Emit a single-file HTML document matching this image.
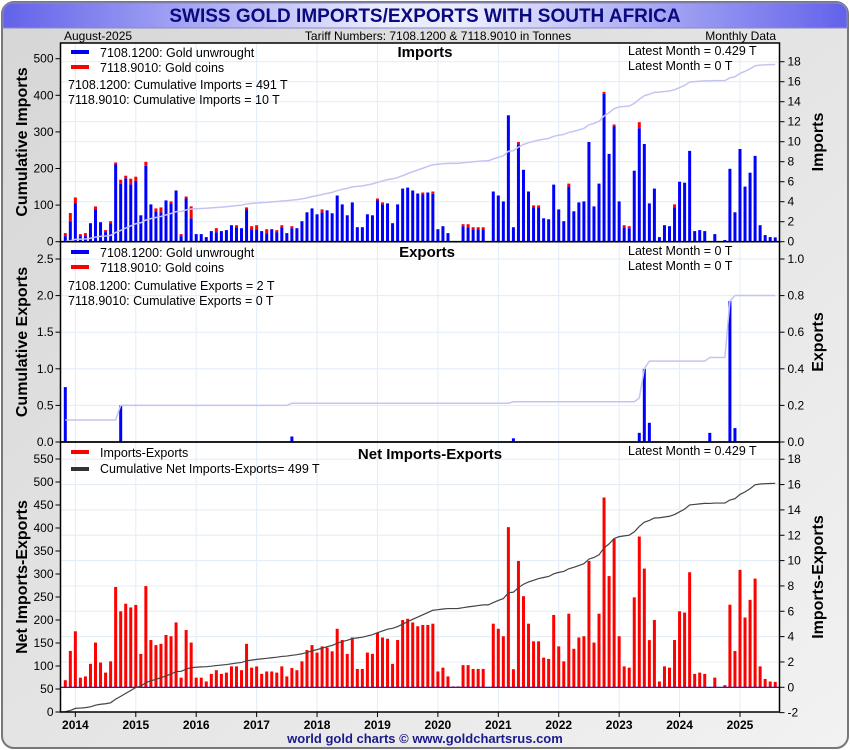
<!DOCTYPE html>
<html><head><meta charset="utf-8"><style>
html,body{margin:0;padding:0;background:#fff;}
svg{display:block;font-family:"Liberation Sans",Arial,sans-serif;}
</style></head><body>
<svg id="chart" width="850" height="750" viewBox="0 0 850 750" xmlns="http://www.w3.org/2000/svg">
<defs>
<linearGradient id="bg" x1="0" y1="0" x2="1" y2="1"><stop offset="0" stop-color="#d6d6d6"/><stop offset="1" stop-color="#f2f2f2"/></linearGradient>
<linearGradient id="ban" x1="0" y1="0" x2="1" y2="0"><stop offset="0" stop-color="#6262ea"/><stop offset="0.45" stop-color="#ececff"/><stop offset="0.55" stop-color="#ececff"/><stop offset="1" stop-color="#6262ea"/></linearGradient>
</defs>
<rect x="2" y="2" width="846" height="746" rx="12" fill="url(#bg)" stroke="#777" stroke-width="2"/>
<path d="M3,28 L3,14 Q3,3 14,3 L836,3 Q847,3 847,14 L847,28 Z" fill="url(#ban)" stroke="#8888cc"/>
<text x="425" y="22" text-anchor="middle" font-size="19" font-weight="bold" fill="#0a0a80">SWISS GOLD IMPORTS/EXPORTS WITH SOUTH AFRICA</text>
<text x="64" y="40" font-size="12">August-2025</text>
<text x="438" y="40" font-size="12" text-anchor="middle">Tariff Numbers: 7108.1200 &amp; 7118.9010 in Tonnes</text>
<text x="776" y="40" font-size="12" text-anchor="end">Monthly Data</text>
<rect x="60.5" y="43" width="719" height="669" fill="#fff"/>
<g id="g"></g>
<text x="425" y="743" font-size="13" font-weight="bold" text-anchor="middle" fill="#1a1a8c">world gold charts © www.goldchartsrus.com</text>
</svg>
<script>
const importsTotal=[0.86,2.87,4.42,0.76,0.86,1.85,3.53,1.95,1.16,2.05,
7.92,6.2,6.6,6.3,6.5,2.64,7.99,3.73,3.33,3.43,
4.13,4.03,5.12,0.76,4.52,3.53,0.76,0.76,0.46,1.06,
1.35,1.06,1.16,1.65,1.65,1.35,3.43,1.55,1.65,1.06,
1.25,1.25,1.16,1.65,0.86,1.55,1.35,2.05,2.94,3.33,
2.74,3.23,3.14,2.84,4.62,3.73,2.64,3.93,1.45,1.45,
2.74,2.64,4.32,3.93,3.83,1.85,3.73,5.31,5.41,5.12,
4.82,4.92,4.92,5.02,1.25,1.55,0.86,0.07,0.07,1.75,
1.75,1.45,1.45,1.45,0,5.02,4.62,4.03,12.64,1.45,
9.97,7.19,5.02,3.63,3.63,2.34,2.24,5.71,3.23,2.05,
5.81,3.04,3.93,4.03,9.97,3.53,5.81,14.98,8.78,11.72,
4.03,1.65,1.55,7.1,11.95,9.77,3.83,5.31,0.46,1.65,
1.55,3.73,6.0,5.9,9.08,1.06,1.16,1.06,0,0.76,
0,0.17,7.29,2.94,9.27,5.51,6.9,8.58,1.65,0.66,
0.46,0.43];
const coins=[0.3,0.83,0.6,0.2,0.3,0,0.3,0,0.2,0.2,
0.2,0.4,0.26,0.56,0.4,0,0.4,0,0.3,0.5,
0,0.2,0,0.2,0.2,1.19,0,0,0,0,
0.4,0,0,0,0.2,0,0.2,0.3,0.4,0,
0.4,0,0.2,0.2,0,0.2,0,0,0,0,
0,0.3,0,0,0,0,0,0,0,0,
0,0,0.2,0.2,0,0,0,0,0,0,
0,0.2,0,0.23,0,0,0,0,0,0.2,
0.3,0.2,0.2,0.2,0,0,0,0,0,0,
0.23,0,0,0.2,0.2,0,0,0,0,0,
0.3,0,0,0,0,0,0,0.2,0,0.2,
0,0.2,0.2,0,0.6,0,0,0,0,0,
0,0.3,0,0,0,0,0,0,0,0,
0,0,0,0,0,0,0,0,0,0,
0,0];
const exportsVals=[0.3,0,0,0,0,0,0,0,0,0,
0,0.2,0,0,0,0,0,0,0,0,
0,0,0,0,0,0,0,0,0,0,
0,0,0,0,0,0,0,0,0,0,
0,0,0,0,0,0.03,0,0,0,0,
0,0,0,0,0,0,0,0,0,0,
0,0,0,0,0,0,0,0,0,0,
0,0,0,0,0,0,0,0,0,0,
0,0,0,0,0,0,0,0,0,0.02,
0,0,0,0,0,0,0,0,0,0,
0,0,0,0,0,0,0,0,0,0,
0,0,0,0,0.05,0.4,0.105,0,0,0,
0,0,0,0,0,0,0,0,0.05,0,
0,0,0.77,0.076,0,0,0,0,0,0,
0,0];
const yearLabels=["2014","2015","2016","2017","2018","2019","2020","2021","2022","2023","2024","2025"];
const p1LeftTicks=[0,100,200,300,400,500];
const p1RightTicks=[0,2,4,6,8,10,12,14,16,18];
const p2LeftTicks=[0,0.5,1,1.5,2,2.5];
const p2RightTicks=[0,0.2,0.4,0.6,0.8,1.0];
const p3LeftTicks=[0,50,100,150,200,250,300,350,400,450,500,550];
const p3RightTicks=[-2,0,2,4,6,8,10,12,14,16,18];

const NS="http://www.w3.org/2000/svg";
const G=document.getElementById('g');
function mk(tag,attrs,parent,txt){const e=document.createElementNS(NS,tag);for(const k in attrs)e.setAttribute(k,attrs[k]);if(txt!==undefined)e.textContent=txt;(parent||G).appendChild(e);return e;}
const L=60.5,R=779.5;
const x=i=>65.3+i*5.035;
const p1R=v=>241.7-v*10, p1L=v=>241.7-v*0.366;
const p2R=v=>442-v*183, p2L=v=>442-v*73.2;
const p3R=v=>687.3-v*12.67, p3L=v=>712-v*0.46;
const panels=[{top:43,bot:241.7,lt:p1LeftTicks,lf:p1L,rt:p1RightTicks,rf:p1R,lfmt:v=>String(v),rfmt:v=>String(v),name:'imports'},
{top:241.7,bot:442,lt:p2LeftTicks,lf:p2L,rt:p2RightTicks,rf:p2R,lfmt:v=>v.toFixed(1),rfmt:v=>v.toFixed(1),name:'exports'},
{top:442,bot:712,lt:p3LeftTicks,lf:p3L,rt:p3RightTicks,rf:p3R,lfmt:v=>String(v),rfmt:v=>String(v),name:'net'}];
// grids
panels.forEach(p=>{
  p.rt.forEach(v=>{const y=p.rf(v);if(y>p.top+1&&y<p.bot-1){const e=mk('line',{x1:L,x2:R,y1:y,y2:y,stroke:'#e3ecf7','stroke-width':1});

}});
  yearLabels.forEach((yl,k)=>{const xx=x(2+12*k);const e=mk('line',{x1:xx,x2:xx,y1:p.top,y2:p.bot,stroke:'#e3ecf7','stroke-width':1});

});
});
// panel 1 bars
const cumImp=[];let s=0;
importsTotal.forEach((t,i)=>{const c=coins[i],u=t-c;s+=u;cumImp.push(s);
  if(u>0){const b=mk('rect',{x:x(i)-1.5,y:p1R(u),width:3,height:p1R(0)-p1R(u),fill:'#0000ff'});

}
  if(c>0){const b=mk('rect',{x:x(i)-1.5,y:p1R(t),width:3,height:p1R(u)-p1R(t),fill:'#ff0000'});

}
});
let l1=mk('polyline',{points:cumImp.map((v,i)=>x(i)+','+p1L(v)).join(' '),fill:'none',stroke:'#c4c4f2','stroke-width':1.5});


// panel 2
const cumExp=[];s=0;
exportsVals.forEach((v,i)=>{s+=v;cumExp.push(s);
  if(v>0){const b=mk('rect',{x:x(i)-1.5,y:p2R(v),width:3,height:p2R(0)-p2R(v),fill:'#0000ff'});

}
});
let l2=mk('polyline',{points:cumExp.map((v,i)=>x(i)+','+p2L(v)).join(' '),fill:'none',stroke:'#c4c4f2','stroke-width':1.5});


// panel 3
const cumNet=[];s=0;
importsTotal.forEach((t,i)=>{const n=t-exportsVals[i];s+=n;cumNet.push(s);
  const y0=p3R(0),y1=p3R(n);
  if(n!==0){const b=mk('rect',{x:x(i)-1.5,y:Math.min(y0,y1),width:3,height:Math.abs(y1-y0),fill:'#ff0000'});

}
});
let z=mk('line',{x1:L,x2:R,y1:p3R(0),y2:p3R(0),stroke:'#0000cc','stroke-width':1.2});


let l3=mk('polyline',{points:[L+','+p3L(0)].concat(cumNet.map((v,i)=>x(i)+','+p3L(v))).join(' '),fill:'none',stroke:'#444','stroke-width':1.2});


// frames, ticks
panels.forEach(p=>{
  const f=mk('rect',{x:L,y:p.top,width:R-L,height:p.bot-p.top,fill:'none',stroke:'#000','stroke-width':1.5});


  p.lt.forEach(v=>{const y=p.lf(v);mk('line',{x1:L-5,x2:L,y1:y,y2:y,stroke:'#000'});
    const t=mk('text',{x:L-7,y:y+4,'font-size':12,'text-anchor':'end'},G,p.lfmt(v));

});
  p.rt.forEach(v=>{const y=p.rf(v);mk('line',{x1:R,x2:R+5,y1:y,y2:y,stroke:'#000'});
    const t=mk('text',{x:R+8,y:y+4,'font-size':12},G,p.rfmt(v));

});
});
yearLabels.forEach((yl,k)=>{const xx=x(2+12*k);mk('line',{x1:xx,x2:xx,y1:712,y2:717,stroke:'#000'});
  const t=mk('text',{x:xx,y:729,'font-size':12,'font-weight':'bold','text-anchor':'middle'},G,yl);

});
// axis titles
function vt(txt,cx,cy,name){const t=mk('text',{x:0,y:0,'font-size':16,'font-weight':'bold','text-anchor':'middle',transform:`translate(${cx},${cy}) rotate(-90)`},G,txt);

}
vt('Cumulative Imports',27,142,'imports-left-axis-title');
vt('Cumulative Exports',27,342,'exports-left-axis-title');
vt('Net Imports-Exports',27,577,'net-left-axis-title');
vt('Imports',823,142,'imports-right-axis-title');
vt('Exports',823,342,'exports-right-axis-title');
vt('Imports-Exports',823,577,'net-right-axis-title');
// legends & texts
function tx(txt,xx,yy,opts,name){const a=Object.assign({x:xx,y:yy,'font-size':12.5},opts||{});const t=mk('text',a,G,txt);

}
function sw(xx,yy,col,name){const r=mk('rect',{x:xx,y:yy-2,width:18,height:4,fill:col});

}
sw(71,52,'#0000ff','legend-swatch-unwrought');tx('7108.1200: Gold unwrought',100,57,{},'legend-unwrought');
sw(71,67,'#ff0000','legend-swatch-coins');tx('7118.9010: Gold coins',100,72,{},'legend-coins');
tx('7108.1200: Cumulative Imports = 491 T',68,89,{},'cumulative-imports-unwrought');
tx('7118.9010: Cumulative Imports = 10 T',68,104,{},'cumulative-imports-coins');
tx('Imports',425,57,{'font-size':15,'font-weight':'bold','text-anchor':'middle'},'imports-panel-title');
tx('Latest Month = 0.429 T',628,55,{},'imports-latest-unwrought');
tx('Latest Month = 0 T',628,70,{},'imports-latest-coins');
sw(71,252,'#0000ff','legend-swatch-unwrought-exp');tx('7108.1200: Gold unwrought',100,257,{},'legend-unwrought-exp');
sw(71,267,'#ff0000','legend-swatch-coins-exp');tx('7118.9010: Gold coins',100,272,{},'legend-coins-exp');
tx('7108.1200: Cumulative Exports = 2 T',68,290,{},'cumulative-exports-unwrought');
tx('7118.9010: Cumulative Exports = 0 T',68,305,{},'cumulative-exports-coins');
tx('Exports',427,257,{'font-size':15,'font-weight':'bold','text-anchor':'middle'},'exports-panel-title');
tx('Latest Month = 0 T',628,255,{},'exports-latest-unwrought');
tx('Latest Month = 0 T',628,270,{},'exports-latest-coins');
sw(71,452,'#ff0000','legend-swatch-net');tx('Imports-Exports',100,457,{},'legend-net');
sw(71,469,'#333','legend-swatch-cumnet');tx('Cumulative Net Imports-Exports= 499 T',100,473,{},'legend-cumulative-net');
tx('Net Imports-Exports',430,459,{'font-size':15,'font-weight':'bold','text-anchor':'middle'},'net-panel-title');
tx('Latest Month = 0.429 T',628,455,{},'net-latest');
</script>
</body></html>
